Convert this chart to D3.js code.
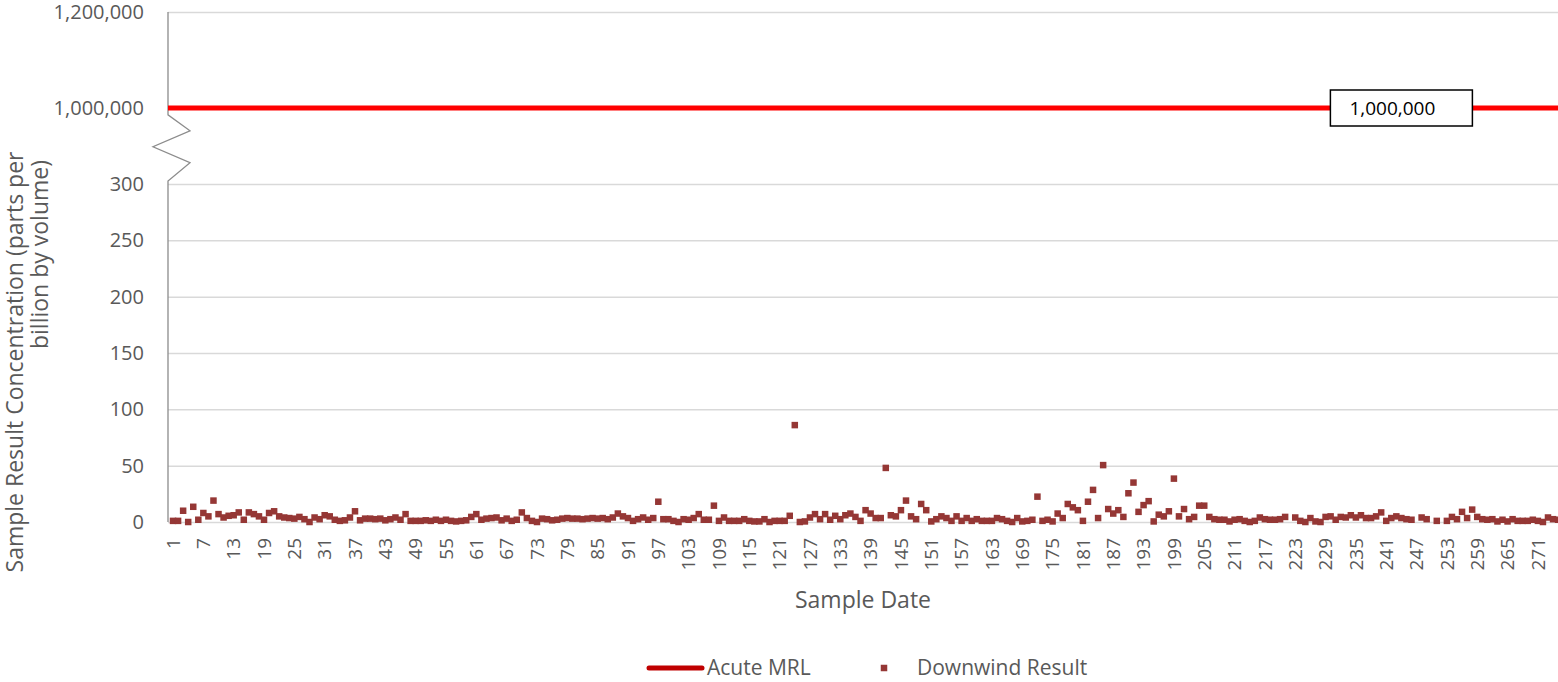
<!DOCTYPE html>
<html>
<head>
<meta charset="utf-8">
<script src="https://cdn.jsdelivr.net/npm/d3@7"></script>
<style>
  body { margin: 0; background: #fff; }
  svg { display: block; font-family: "Open Sans", sans-serif; }
</style>
</head>
<body>
<div id="chart"></div>
<script>
const width = 1558;
const height = 682;

// sample numbers 1..275 (x categories)
const categories = d3.range(1, 276);
const xTickLabels = d3.range(1, 276, 6);

// downwind results, ppbv (null = no sample)
const downwind = [
  1, 1, 10, 0, 13.5, 2, 8, 5, 19, 7, 4, 5.5, 6, 8.5, 2, 8.5, 7, 5, 2, 8,
  9.5, 5, 4, 3.5, 3, 4.5, 2.5, 0, 4, 2.5, 6, 5, 2, 1, 1.5, 4, 9.5, 1.5, 3, 3,
  2.5, 3, 1.5, 2.5, 4, 2, 7, 1, 1, 1, 1.5, 1, 2, 1, 2, 1, 0.5, 1, 1.5, 4.5,
  7, 2, 3, 3.5, 4, 1.5, 3, 1, 2, 8.5, 3.5, 1, 0, 3, 2.5, 1.5, 2, 3, 3.5, 3,
  3, 2.5, 3, 3.5, 3, 3.5, 2.5, 4, 7.5, 5, 3.5, 1, 2.5, 4, 2, 3.5, 18, 2.5, 2.5, 1,
  0, 2.5, 2, 3.5, 7, 2, 2, 14.5, 1, 4, 1, 1, 1, 2.5, 1, 0.5, 0.5, 2.5, 0, 1,
  1, 1, 5.5, 86, 0, 0.5, 4, 7, 2.5, 7, 2, 5.5, 2.5, 6, 7.5, 4.5, 1, 10.5, 7.5, 3.5,
  3.5, 48, 6, 5, 10.5, 19, 5, 2.5, 16, 10.5, 0.5, 2.5, 5, 3.5, 1, 5, 1, 3.5, 1, 2.5,
  1, 1, 1, 3.5, 2.5, 1, 0, 3.5, 0.5, 1, 2, 22.5, 1, 2, 0.5, 7.5, 3.5, 16, 13, 10.5,
  1, 18, 28.5, 3.5, 50.5, 11.5, 7.5, 10.5, 4.5, 25.5, 35, 9, 15, 18.5, 0.5, 6.5, 5, 9.5, 38.5, 5,
  11.5, 2.5, 4.5, 14.5, 14.5, 4.5, 2.5, 2, 2, 0.5, 2, 2.5, 1, 0, 1, 4, 2.5, 2, 2, 2.5,
  4.5, null, 4, 1, 0, 3.5, 0.5, 0, 4.5, 5, 2, 4.5, 4, 6, 4, 6, 3.5, 3.5, 5, 8.5,
  1, 3.5, 5, 3.5, 2.5, 2, null, 4, 2.5, null, 1, null, 1, 4.5, 2.5, 9, 3.5, 11, 4.5, 2.5,
  2, 2.5, 0.5, 2, 0.5, 2.5, 1, 1, 1, 2, 1, 0, 4, 2.5, 2
];

// acute minimal risk level, constant
const acuteMRL = categories.map(() => 1000000);
const mrlLabelAt = 244;

const lowTicks = [0, 50, 100, 150, 200, 250, 300];
const highTicks = [1000000, 1200000];

const textColor = '#595959';
const gridColor = '#d9d9d9';
const markColor = '#953735';

const plot = { left: 168, right: 1558 };

const svg = d3.select('#chart')
  .append('svg')
  .attr('width', width)
  .attr('height', height);

const x = d3.scaleBand()
  .domain(categories)
  .range([170.5, 170.5 + 275 * 5.055]);
const cx = (c) => x(c) + x.bandwidth() / 2;

// broken y axis: two linear pieces
const yLow = d3.scaleLinear().domain([0, 300]).range([522, 184]);
const yHigh = d3.scaleLinear().domain([1000000, 1200000]).range([108, 12]);
const y = (v) => (v <= 300 ? yLow(v) : yHigh(v));

// gridlines
const grid = svg.append('g').attr('class', 'gridlines');
grid.append('g')
  .attr('transform', `translate(${plot.left},0)`)
  .call(d3.axisLeft(yLow).tickValues(lowTicks).tickFormat('').tickSize(-(plot.right - plot.left)));
grid.append('g')
  .attr('transform', `translate(${plot.left},0)`)
  .call(d3.axisLeft(yHigh).tickValues(highTicks).tickFormat('').tickSize(-(plot.right - plot.left)));
grid.selectAll('.domain').remove();
grid.selectAll('line').attr('stroke', gridColor).attr('stroke-width', 1.5);

// y tick labels
const fmt = d3.format(',');
[yLow, yHigh].forEach((sc, k) => {
  const g = svg.append('g')
    .attr('transform', `translate(${plot.left - 21},0)`)
    .call(d3.axisLeft(sc).tickValues(k === 0 ? lowTicks : highTicks).tickFormat(fmt).tickSize(0));
  g.select('.domain').remove();
  g.selectAll('text')
    .attr('fill', textColor)
    .style('font-size', '20px')
    .style('font-family', '"Open Sans", sans-serif');
});

// y axis line with break zigzag
const yTop = yHigh(1200000), yBreakHi = yHigh(1000000), yBreakLo = yLow(300), yBottom = yLow(0);
const seg = (yBreakLo - yBreakHi);
svg.append('path')
  .attr('d', d3.line()([
    [plot.left, yTop],
    [plot.left, yBreakHi + seg * 0.09],
    [plot.left + 22, yBreakHi + seg * 0.30],
    [plot.left - 15, yBreakHi + seg * 0.51],
    [plot.left + 22, yBreakHi + seg * 0.72],
    [plot.left, yBreakHi + seg * 0.96],
    [plot.left, yBottom]
  ]))
  .attr('fill', 'none')
  .attr('stroke', '#8c8c8c')
  .attr('stroke-width', 1.3);

// x axis
const xAxis = svg.append('g')
  .attr('transform', `translate(0,${yBottom})`)
  .call(d3.axisBottom(x).tickValues(xTickLabels).tickSize(0));
xAxis.select('.domain').remove();
xAxis.selectAll('text')
  .attr('fill', textColor)
  .style('font-size', '19px')
  .style('font-family', '"Open Sans", sans-serif')
  .attr('transform', 'rotate(-90)')
  .attr('text-anchor', 'end')
  .attr('x', -16)
  .attr('y', 0)
  .attr('dy', '0.35em');

// acute MRL line
svg.append('path')
  .datum(acuteMRL)
  .attr('d', d3.line()
    .x((d, i) => (i === 0 ? plot.left : i === acuteMRL.length - 1 ? plot.right : cx(categories[i])))
    .y((d) => y(d)))
  .attr('fill', 'none')
  .attr('stroke', '#ff0000')
  .attr('stroke-width', 5);

// data label box on MRL line
const lbl = svg.append('g')
  .attr('transform', `translate(${cx(mrlLabelAt)},${y(acuteMRL[mrlLabelAt - 1])})`);
lbl.append('rect')
  .attr('x', -71).attr('y', -18)
  .attr('width', 142).attr('height', 36)
  .attr('fill', '#fff')
  .attr('stroke', '#000')
  .attr('stroke-width', 1.5);
lbl.append('text')
  .attr('x', -9)
  .attr('dy', '0.35em')
  .attr('text-anchor', 'middle')
  .style('font-size', '19px')
  .attr('fill', '#000')
  .text(fmt(acuteMRL[mrlLabelAt - 1]));

// downwind markers
const ms = 6.5;
svg.append('g')
  .selectAll('rect')
  .data(categories.map((c, i) => ({ c, v: downwind[i] })).filter((d) => d.v !== null))
  .join('rect')
  .attr('x', (d) => cx(d.c) - ms / 2)
  .attr('y', (d) => y(d.v) - ms / 2)
  .attr('width', ms)
  .attr('height', ms)
  .attr('fill', markColor);

// axis titles
svg.append('text')
  .attr('x', 863)
  .attr('y', 608)
  .attr('text-anchor', 'middle')
  .attr('fill', textColor)
  .style('font-size', '23px')
  .text('Sample Date');

svg.append('text')
  .attr('transform', 'translate(23,362) rotate(-90)')
  .attr('text-anchor', 'middle')
  .attr('fill', textColor)
  .style('font-size', '23px')
  .text('Sample Result Concentration (parts per');
svg.append('text')
  .attr('transform', 'translate(48,160) rotate(-90)')
  .attr('text-anchor', 'end')
  .attr('fill', textColor)
  .style('font-size', '23px')
  .text('billion by volume)');

// legend
const legend = svg.append('g').attr('transform', 'translate(0,668)');
legend.append('line')
  .attr('x1', 649).attr('x2', 702)
  .attr('stroke', '#c00000')
  .attr('stroke-width', 5)
  .attr('stroke-linecap', 'round');
legend.append('text')
  .attr('x', 707).attr('dy', '0.35em')
  .attr('fill', textColor)
  .style('font-size', '21px')
  .text('Acute MRL');
legend.append('rect')
  .attr('x', 884 - ms / 2).attr('y', -ms / 2)
  .attr('width', ms).attr('height', ms)
  .attr('fill', markColor);
legend.append('text')
  .attr('x', 917).attr('dy', '0.35em')
  .attr('fill', textColor)
  .style('font-size', '21px')
  .text('Downwind Result');
</script>
</body>
</html>
